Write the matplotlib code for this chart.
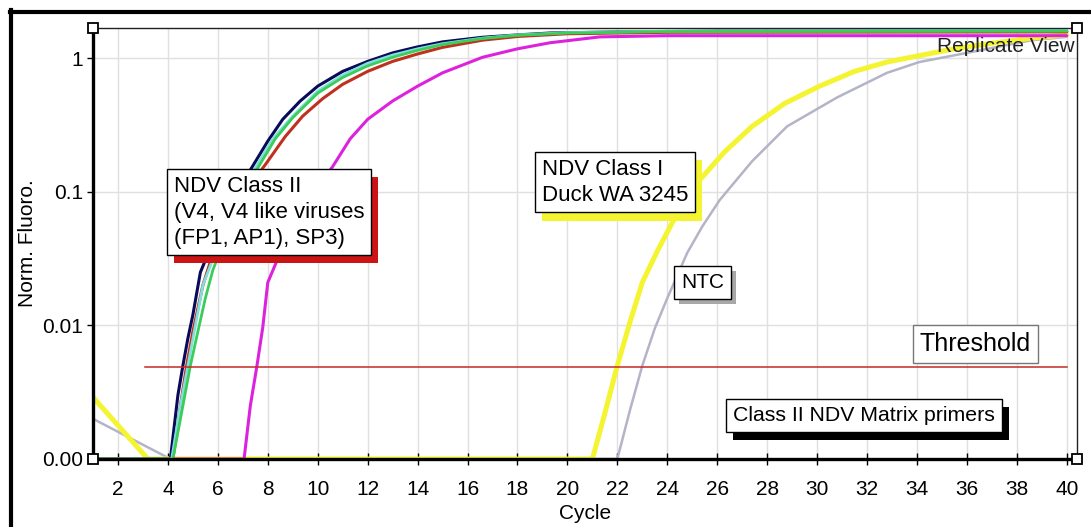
import matplotlib
matplotlib.use('Agg')
import matplotlib.pyplot as plt
from matplotlib import patheffects as pe
from matplotlib.lines import Line2D

plt.rcParams['font.family'] = ['Liberation Sans', 'DejaVu Sans']

# ---------------- data ----------------
cycle_ticks = list(range(2, 41, 2))
y_ticks = [1, 0.1, 0.01, 0.001]
y_tick_labels = ['1', '0.1', '0.01', '0.00']

threshold_value = 0.0049
threshold_x = [3.1, 40.0]

navy_x = [1, 4.1, 4.4, 4.6, 4.8, 5.0, 5.3, 5.8, 6.5, 7.3, 8.0, 8.6, 9.3, 10.0, 11.0, 12.0,
          13.0, 14.0, 15.0, 16.6, 18.0, 19.3, 22.0, 26.0, 40.0]
navy_y = [0.001, 0.001, 0.003, 0.005, 0.008, 0.012, 0.025, 0.042, 0.08, 0.146, 0.24, 0.35,
          0.48, 0.62, 0.80, 0.95, 1.10, 1.22, 1.33, 1.44, 1.50, 1.55, 1.58, 1.60, 1.60]

red_x = [1, 4.2, 4.5, 4.75, 5.0, 5.4, 5.7, 6.3, 7.0, 7.9, 8.7, 9.4, 10.2, 11.0, 12.0, 13.0,
         14.0, 15.0, 16.6, 18.0, 20.0, 24.0, 40.0]
red_y = [0.001, 0.001, 0.0025, 0.005, 0.009, 0.02, 0.03, 0.055, 0.095, 0.16, 0.26, 0.37,
         0.50, 0.64, 0.80, 0.95, 1.08, 1.21, 1.37, 1.46, 1.53, 1.57, 1.58]

cyan_x = [1, 4.15, 4.5, 4.8, 5.1, 5.4, 5.9, 6.6, 7.45, 8.2, 9.0, 10.0, 11.0, 12.0, 13.0,
          14.0, 15.0, 16.6, 18.0, 20.0, 24.0, 40.0]
cyan_y = [0.001, 0.001, 0.0025, 0.005, 0.01, 0.02, 0.035, 0.07, 0.146, 0.25, 0.37, 0.57,
          0.75, 0.92, 1.06, 1.18, 1.29, 1.42, 1.50, 1.56, 1.60, 1.62]

green_x = [1, 4.2, 4.6, 4.9, 5.2, 5.5, 5.8, 6.3, 6.9, 7.55, 8.3, 9.0, 10.0, 11.0, 12.0, 13.0,
           14.0, 15.0, 16.6, 18.0, 20.0, 24.0, 40.0]
green_y = [0.001, 0.001, 0.0025, 0.005, 0.009, 0.016, 0.026, 0.045, 0.08, 0.146, 0.25, 0.36,
           0.55, 0.72, 0.88, 1.02, 1.15, 1.27, 1.41, 1.49, 1.55, 1.59, 1.60]

magenta_x = [1, 7.05, 7.3, 7.56, 7.8, 8.0, 8.5, 9.0, 9.5, 10.0, 10.6, 11.3, 12.0, 13.0, 14.0,
             15.0, 16.6, 18.0, 19.3, 21.3, 24.0, 40.0]
magenta_y = [0.001, 0.001, 0.0025, 0.0049, 0.0097, 0.021, 0.035, 0.055, 0.08, 0.11, 0.155,
             0.25, 0.35, 0.48, 0.62, 0.78, 1.02, 1.18, 1.31, 1.45, 1.48, 1.48]

yellow_x = [1.0, 3.2, 21.0, 21.5, 22.0, 22.5, 23.0, 23.6, 24.2, 25.3, 26.3, 27.4, 28.7, 30.1,
            31.5, 32.8, 34.1, 35.5, 37.0, 38.6, 40.0]
yellow_y = [0.0029, 0.001, 0.001, 0.0022, 0.005, 0.0105, 0.021, 0.036, 0.059, 0.123, 0.2,
            0.31, 0.46, 0.62, 0.80, 0.94, 1.05, 1.18, 1.30, 1.42, 1.50]

gray_x = [1.0, 4.1, 22.0, 22.5, 23.0, 23.5, 24.0, 24.8, 25.4, 26.1, 27.4, 28.8, 30.8, 32.8,
          34.1, 36.0, 38.6, 40.0]
gray_y = [0.002, 0.001, 0.001, 0.0023, 0.005, 0.0095, 0.016, 0.035, 0.055, 0.087, 0.17,
          0.31, 0.51, 0.78, 0.94, 1.10, 1.37, 1.45]

label_class2 = "NDV Class II\n(V4, V4 like viruses\n(FP1, AP1), SP3)"
label_class1 = "NDV Class I\nDuck WA 3245"
label_ntc = "NTC"
label_threshold = "Threshold"
label_primers = "Class II NDV Matrix primers"
label_view = "Replicate View"

# ---------------- figure ----------------
W, H = 1091, 527
fig = plt.figure(figsize=(W / 100, H / 100), dpi=100)
fig.patch.set_facecolor('white')
ax = fig.add_axes([93 / W, (H - 459) / H, 984 / W, 431 / H])
ax.set_yscale('log')
ax.set_xlim(1.0, 40.41)
ax.set_ylim(0.001, 1.69)

ax.set_xticks(cycle_ticks)
ax.set_xticklabels([str(c) for c in cycle_ticks])
ax.set_yticks(y_ticks)
ax.set_yticklabels(y_tick_labels)
ax.yaxis.set_minor_locator(matplotlib.ticker.NullLocator())
ax.grid(True, color='#e0e0e0', linewidth=1.0)
ax.set_axisbelow(True)
ax.tick_params(axis='x', direction='inout', length=8, width=1, pad=11, labelsize=15)
ax.tick_params(axis='y', direction='out', length=4, width=1, pad=3, labelsize=15)
ax.set_xlabel('Cycle', fontsize=15, labelpad=4)
ax.set_ylabel('Norm. Fluoro.', fontsize=15, labelpad=4)

for side in ('left', 'bottom'):
    ax.spines[side].set_linewidth(2.4)
    ax.spines[side].set_color('black')
for side in ('top', 'right'):
    ax.spines[side].set_linewidth(1.0)
    ax.spines[side].set_color('#222222')

kw = dict(solid_joinstyle='round', solid_capstyle='round')
ax.plot(gray_x, gray_y, color='#b4b4c8', lw=1.8, **kw)
ax.plot(yellow_x, yellow_y, color='#f4f430', lw=3.6, **kw)
ax.plot(magenta_x, magenta_y, color='#dd22dd', lw=2.2, **kw)
ax.plot(navy_x, navy_y, color='#0a0a5a', lw=2.2, **kw)
ax.plot(red_x, red_y, color='#c0301e', lw=2.2, **kw)
ax.plot(cyan_x, cyan_y, color='#7ee0dc', lw=2.0, **kw)
ax.plot(green_x, green_y, color='#3ccc5a', lw=2.0, **kw)
ax.plot(threshold_x, [threshold_value] * 2, color='#c82828', lw=1.1)

# corner handles
for cx, cy in [(0, 0), (0, 1), (1, 0), (1, 1)]:
    ax.plot([cx], [cy], marker='s', ms=7, mfc='white', mec='black', mew=1.3,
            transform=ax.transAxes, clip_on=False, zorder=6)


def fx(px):
    return (px - 93) / 984


def fy(py):
    return (459 - py) / 431


def box(txt, px, py, shadow, size=16, edge='black', dx=5, dy=-5.8, pad=0.3):
    t = ax.text(fx(px), fy(py), txt, transform=ax.transAxes, ha='left', va='top',
                fontsize=size, linespacing=1.3, zorder=5,
                bbox=dict(boxstyle='square,pad=%g' % pad, fc='white', ec=edge, lw=1.0))
    if shadow is not None:
        t.get_bbox_patch().set_path_effects([
            pe.SimplePatchShadow(offset=(dx, dy), shadow_rgbFace=shadow, alpha=1.0),
            pe.Normal()])
    return t


box(label_class2, 174, 176, '#cc1414')
box(label_class1, 542, 159, '#f4f430')
box(label_ntc, 681, 273, '#a8a8a8', size=15, dx=3.5, dy=-3.5, pad=0.33)
box(label_threshold, 920, 332, None, size=18, edge='#777777', pad=0.28)
box(label_primers, 733, 406, 'black', size=15.3, pad=0.33)

ax.text(fx(1075), fy(37), label_view, transform=ax.transAxes, ha='right', va='top',
        fontsize=15, color='#222222', zorder=5)

# outer frame (left and top edges)
fig.add_artist(Line2D([11.5 / W, 11.5 / W], [0, 1 - 10 / H], transform=fig.transFigure,
                      color='black', lw=3.0))
fig.add_artist(Line2D([10 / W, 1], [1 - 12 / H, 1 - 12 / H], transform=fig.transFigure,
                      color='black', lw=3.0))

fig.savefig('out.png', dpi=100)
